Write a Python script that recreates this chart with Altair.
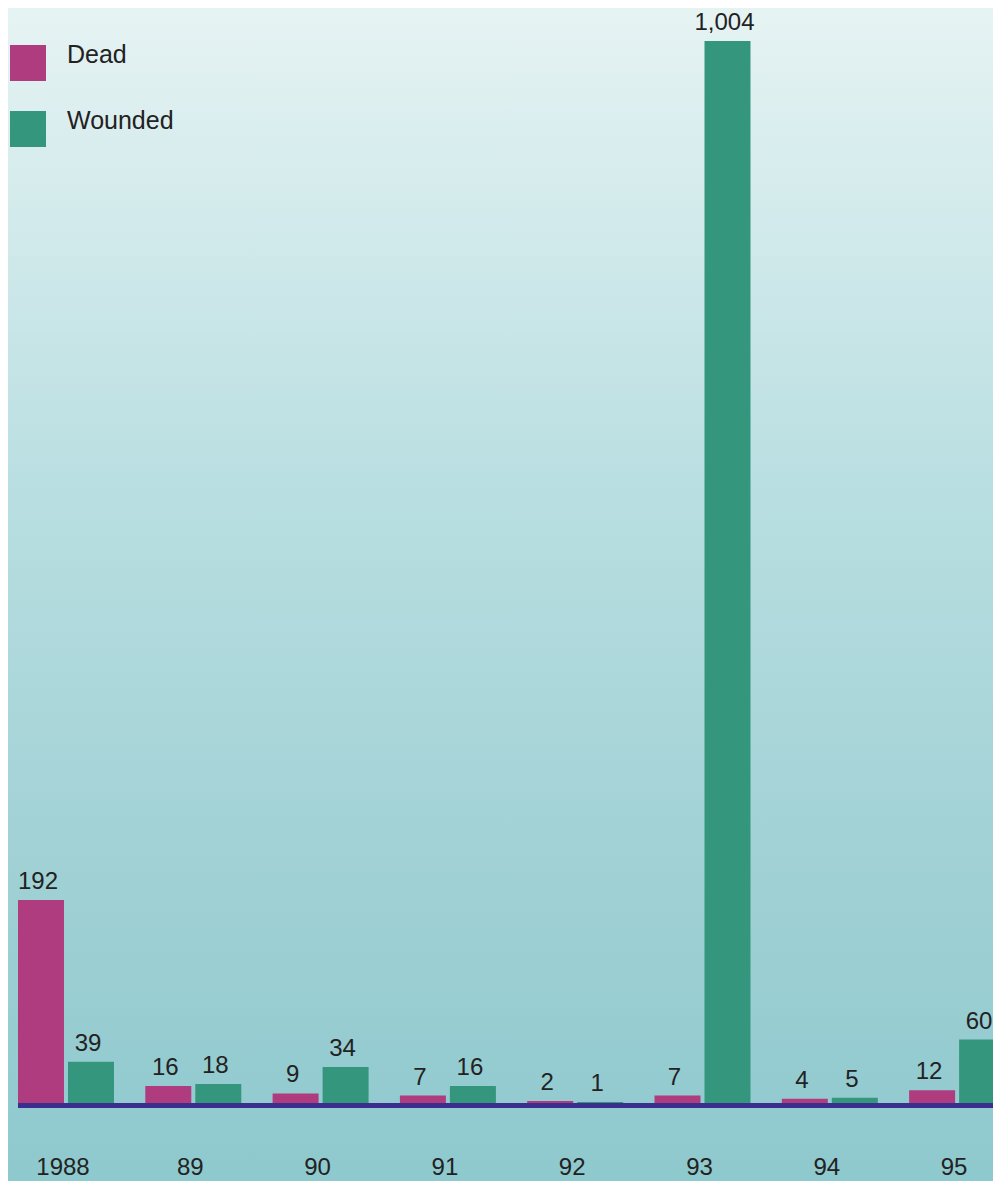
import altair as alt
import pandas as pd

years = ["1988", "89", "90", "91", "92", "93", "94", "95"]
dead = [192, 16, 9, 7, 2, 7, 4, 12]
wounded = [39, 18, 34, 16, 1, 1004, 5, 60]
series = ["Dead", "Wounded"]
colors = ["#b03c80", "#35967e"]

rows = []
for i, y in enumerate(years):
    rows.append({"year": y, "series": "Dead", "value": dead[i], "label": f"{dead[i]:,}"})
    rows.append({"year": y, "series": "Wounded", "value": wounded[i], "label": f"{wounded[i]:,}"})
df = pd.DataFrame(rows)
ydf = pd.DataFrame({"year": years})

W, H = 985, 1173
FONT = "Liberation Sans"

bg = alt.Chart(pd.DataFrame({"d": [0]})).mark_rect(
    fill=alt.Gradient(
        gradient="linear",
        stops=[
            alt.GradientStop(color="#e6f3f3", offset=0),
            alt.GradientStop(color="#b8dee1", offset=0.42),
            alt.GradientStop(color="#9fd0d4", offset=0.75),
            alt.GradientStop(color="#8ec9ce", offset=1),
        ],
        x1=0, x2=0, y1=0, y2=1,
    )
).encode(x=alt.value(0), x2=alt.value(W), y=alt.value(0), y2=alt.value(H))

xscale = alt.Scale(domain=years, range=[10, 10 + 8 * 127.3 - 31.3], paddingInner=0.246, paddingOuter=0)
yscale = alt.Scale(domain=[-73.74, 1035.2], nice=False, zero=False)
xoff = alt.Scale(domain=series, paddingInner=0.08, paddingOuter=0)

base = alt.Chart(df).encode(
    x=alt.X("year:N", scale=xscale, sort=years, axis=None),
    xOffset=alt.XOffset("series:N", scale=xoff, sort=series),
)

bars = base.mark_bar(clip=True).encode(
    y=alt.Y("value:Q", scale=yscale, axis=None),
    y2=alt.datum(0),
    color=alt.Color("series:N", scale=alt.Scale(domain=series, range=colors),
                    legend=alt.Legend(title=None, orient="none", legendX=2, legendY=37,
                                      symbolType="square", symbolSize=1296,
                                      symbolStrokeWidth=0, symbolOpacity=1,
                                      labelFont=FONT, labelFontSize=25, labelColor="#222222",
                                      labelBaseline="alphabetic",
                                      labelOffset=21, rowPadding=28, labelLimit=300)),
)

labels = base.mark_text(baseline="alphabetic", dx=-3, dy=-11, font=FONT, fontSize=24, color="#222222").encode(
    y=alt.Y("value:Q", scale=yscale),
    text="label:N",
)

year_labels = alt.Chart(ydf).mark_text(
    baseline="alphabetic", dx=-3, font=FONT, fontSize=24, color="#222222"
).encode(
    x=alt.X("year:N", scale=xscale, sort=years, axis=None),
    y=alt.datum(-68.5, scale=yscale),
    text="year:N",
)

baseline = alt.Chart(pd.DataFrame({"d": [0]})).mark_rule(color="#3a2f8e", strokeWidth=5).encode(
    x=alt.value(10), x2=alt.value(W), y=alt.datum(-2.4, scale=yscale)
)

chart = alt.layer(bg, bars, labels, year_labels, baseline).properties(
    width=W, height=H, padding=0, autosize=alt.AutoSizeParams(type="none")
).configure_view(stroke=None).configure(background="#ffffff")

chart.save("out.html", embed_options={"renderer": "svg", "actions": False})
